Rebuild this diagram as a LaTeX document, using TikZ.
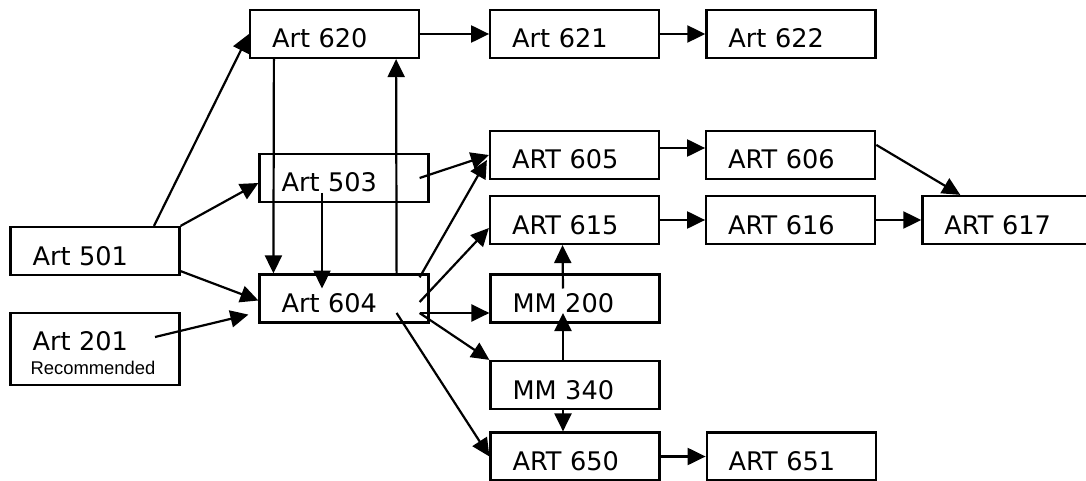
\documentclass[tikz,border=0pt]{standalone}
\usepackage{fontspec}
\usepackage{tikz}
\usetikzlibrary{arrows.meta,positioning}
\newfontfamily\boxfont{DejaVu Sans}
\newfontfamily\notefont{Liberation Sans}

\begin{document}
\begin{tikzpicture}[
          x=1pt, y=-1pt,
          node distance=45pt,
          box/.style={rectangle, draw, line width=2.2pt, align=left,
                      text width=125pt, inner xsep=22pt, inner ysep=0pt,
                      minimum height=48pt, text height=28pt, text depth=0pt,
                      font=\fontsize{25.6}{30}\boxfont},
          link/.style={->, line width=2.2pt},
          >={Triangle[length=18pt,width=17pt]}
        ]
        \useasboundingbox (0,0) rectangle (1086,481);
        \clip (0,0) rectangle (1086,481);
        \node[box] (a620) at (334.5,34) {Art 620};
        \node[box, right=69pt of a620] (a621) {Art 621};
        \node[box, right=of a621] (a622) {Art 622};
        \node[box] (a503) at (344,178) {Art 503};
        \node[box] (a604) at (344,298.5) {Art 604};
        \node[box] (a501) at (95,251) {Art 501};
        \node[box, minimum height=72pt, text height=18pt, text depth=16pt] (a201) at (95,349) {Art 201};
        \node[anchor=base west, inner sep=0pt, font=\fontsize{18.4}{22}\notefont] (a201note)
              at ([xshift=21pt,yshift=-25pt]a201.west) {Recommended};
        \node[box] (c605) at (574.5,155) {ART 605};
        \node[box, right=of c605] (c606) {ART 606};
        \node[box] (c615) at (574.5,220) {ART 615};
        \node[box, right=of c615] (c616) {ART 616};
        \node[box, right=of c616] (c617) {ART 617};
        \node[box] (m200) at (575,298.5) {MM 200};
        \node[box] (m340) at (575,385) {MM 340};
        \node[box] (c650) at (575,456.5) {ART 650};
        \node[box, right=of c650] (c651) {ART 651};
        \draw[link] (a620) -- (a621);
        \draw[link] (a621) -- (a622);
        \draw[link] ([xshift=59pt]a501.north) -- (a620.west);
        \draw[link] (a501.north east) -- ([yshift=-5pt]a503.west);
        \draw[link] ([xshift=25pt]a620.south west) -- ([xshift=15pt]a604.north west);
        \draw[link] ([xshift=-22pt,yshift=-15pt]a503.center) -- ([xshift=-22pt,yshift=10pt]a604.center);
        \draw[link] ([xshift=-33pt]a604.north east) -- ([xshift=-24pt]a620.south east);
        \draw[link] ([yshift=5pt]a501.south east) -- ([yshift=-2pt]a604.west);
        \draw[link] ([xshift=60pt,yshift=12pt]a201.center) -- ([xshift=-10pt,yshift=9pt]a604.south west);
        \draw[link] ([xshift=-10pt]a503.east) -- (c605.west);
        \draw[link] ([xshift=-10pt,yshift=-4pt]a604.north east) -- ([xshift=-2pt,yshift=-5pt]c605.west);
        \draw[link] ([xshift=-10pt,yshift=-3.5pt]a604.east) -- ([yshift=-8pt]c615.west);
        \draw[link] ([xshift=-10pt,yshift=-14.5pt]a604.east) -- ([yshift=-14.5pt]m200.west);
        \draw[link] ([xshift=-10pt,yshift=-14.5pt]a604.east) -- (m340.north west);
        \draw[link] ([xshift=-33pt,yshift=-14.5pt]a604.east) -- (c650.west);
        \draw[link] ([xshift=-12pt,yshift=10pt]m200.center) -- ([xshift=-12pt]c615.south);
        \draw[link] ([xshift=-12pt]m340.north) -- ([xshift=-12pt,yshift=-14.5pt]m200.center);
        \draw[link] ([xshift=-12pt]m340.south) -- ([xshift=-12pt]c650.north);
        \draw[link] (c650) -- (c651);
        \draw[link] ([yshift=7pt]c605.east) -- ([yshift=7pt]c606.west);
        \draw[link] ([yshift=-15pt]c606.north east) -- ([xshift=39pt]c617.north west);
        \draw[link] (c615) -- (c616);
        \draw[link] (c616) -- (c617);
      \end{tikzpicture}
\end{document}
